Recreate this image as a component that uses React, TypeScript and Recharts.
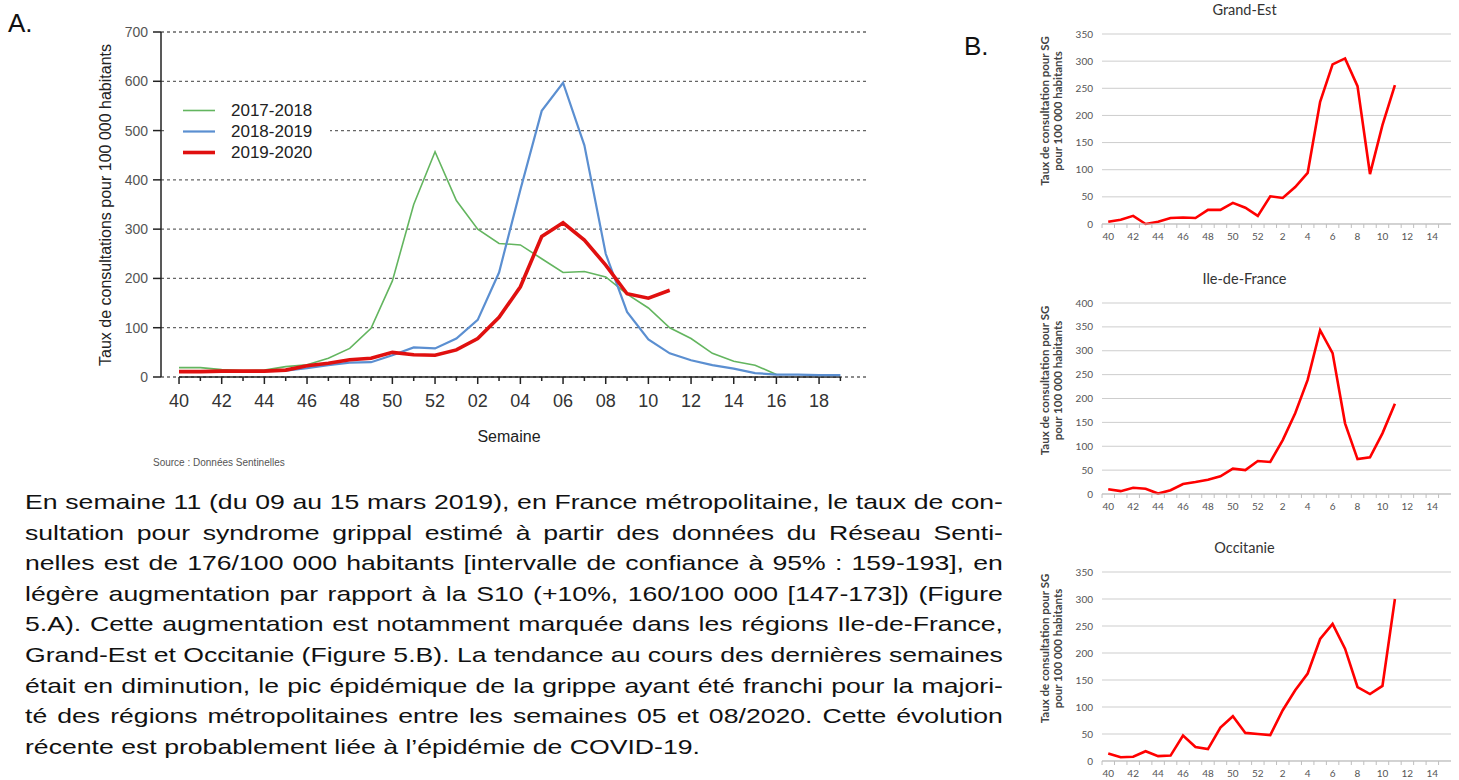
import React from 'react';
import { LineChart, Line, XAxis, YAxis, CartesianGrid, Legend, ReferenceLine } from 'recharts';

// Figure 5.A : taux de consultations pour syndrome grippal, France métropolitaine
const weeks = ['40', '41', '42', '43', '44', '45', '46', '47', '48', '49', '50', '51', '52', '01', '02', '03', '04', '05', '06', '07', '08', '09', '10', '11', '12', '13', '14', '15', '16', '17', '18', '19'];
const season1718 = [19, 19, 15, 13, 14, 21, 25, 38, 58, 99, 195, 350, 457, 358, 300, 271, 268, 240, 212, 214, 203, 168, 140, 100, 78, 48, 32, 24, 5];
const season1819 = [12, 12, 12, 12, 12, 13, 18, 24, 29, 30, 44, 60, 58, 78, 116, 212, 380, 540, 597, 470, 250, 132, 76, 48, 34, 24, 17, 8, 5, 5, 4, 4];
const season1920 = [11, 11, 12, 12, 12, 14, 23, 28, 35, 38, 50, 45, 44, 55, 78, 121, 183, 285, 313, 278, 227, 169, 160, 176];
const mainYTicks = [0, 100, 200, 300, 400, 500, 600, 700];

const seasons = [
  { key: 's1718', name: '2017-2018', color: '#63b55f', width: 1.6 },
  { key: 's1819', name: '2018-2019', color: '#5b8fd1', width: 2.2 },
  { key: 's1920', name: '2019-2020', color: '#e0100f', width: 3.6 },
];

// Figure 5.B : régions
const regionWeeks = ['40', '41', '42', '43', '44', '45', '46', '47', '48', '49', '50', '51', '52', '1', '2', '3', '4', '5', '6', '7', '8', '9', '10', '11', '12', '13', '14', '15'];
const grandEst = [4, 8, 15, 0, 4, 11, 12, 11, 26, 26, 39, 30, 15, 51, 48, 68, 94, 225, 294, 305, 254, 92, 182, 256];
const ileDeFrance = [10, 6, 13, 11, 1, 8, 21, 25, 30, 37, 53, 50, 69, 67, 113, 169, 239, 343, 295, 148, 73, 77, 127, 189];
const occitanie = [14, 7, 8, 18, 9, 10, 47, 26, 22, 62, 83, 52, 50, 48, 94, 131, 162, 226, 254, 208, 137, 124, 139, 300];
const ticks350 = [0, 50, 100, 150, 200, 250, 300, 350];
const ticks400 = [0, 50, 100, 150, 200, 250, 300, 350, 400];

const paragraph = [
  'En semaine 11 (du 09 au 15 mars 2019), en France métropolitaine, le taux de con-',
  'sultation pour syndrome grippal estimé à partir des données du Réseau Senti-',
  'nelles est de 176/100 000 habitants [intervalle de confiance à 95% : 159-193], en',
  'légère augmentation par rapport à la S10 (+10%, 160/100 000 [147-173]) (Figure',
  '5.A). Cette augmentation est notamment marquée dans les régions Ile-de-France,',
  'Grand-Est et Occitanie (Figure 5.B). La tendance au cours des dernières semaines',
  'était en diminution, le pic épidémique de la grippe ayant été franchi pour la majori-',
  'té des régions métropolitaines entre les semaines 05 et 08/2020. Cette évolution',
  'récente est probablement liée à l’épidémie de COVID-19.',
];

const mainData = weeks.map((w, i) => ({
  i,
  week: w,
  s1718: season1718[i] ?? null,
  s1819: season1819[i] ?? null,
  s1920: season1920[i] ?? null,
}));

const arial = '"Liberation Sans", Arial, sans-serif';

function WeekTick(props: any) {
  const { x, y, payload } = props;
  const i = payload.value;
  const major = i % 2 === 0;
  return (
    <g>
      <line x1={x} x2={x} y1={y} y2={y + (major ? 7 : 4)} stroke="#222" strokeWidth={1.5} />
      {major && (
        <text x={x} y={y + 30} textAnchor="middle" fontSize={18} fill="#333">
          {weeks[i]}
        </text>
      )}
    </g>
  );
}

function MainYLabel() {
  return (
    <text transform="translate(111, 205) rotate(-90)" textAnchor="middle" fontSize={16} fill="#222">
      Taux de consultations pour 100 000 habitants
    </text>
  );
}

function SemaineLabel() {
  return (
    <text x={509} y={442} textAnchor="middle" fontSize={16} fill="#222">
      Semaine
    </text>
  );
}

function MainLegend() {
  return (
    <div style={{ background: '#fff', padding: '2px 0', width: 165 }}>
      {seasons.map((s) => (
        <div key={s.key} style={{ display: 'flex', alignItems: 'center', height: 21 }}>
          <svg width={50} height={21}>
            <line x1={18} x2={50} y1={10.5} y2={10.5} stroke={s.color} strokeWidth={s.width} />
          </svg>
          <span style={{ marginLeft: 16, fontSize: 17, color: '#222', fontFamily: arial }}>{s.name}</span>
        </div>
      ))}
    </div>
  );
}

function MainChart() {
  return (
    <LineChart width={880} height={480} data={mainData} margin={{ top: 32, right: 14, bottom: 43, left: 0 }}>
      <CartesianGrid vertical={false} stroke="#666" strokeDasharray="3 3" strokeWidth={1.3} />
      <XAxis
        type="number"
        dataKey="i"
        domain={[-0.845, 32.2]}
        ticks={weeks.map((_, i) => i)}
        interval={0}
        allowDataOverflow
        height={60}
        tickSize={0}
        tickMargin={0}
        tickLine={false}
        axisLine={false}
        tick={<WeekTick />}
        label={<SemaineLabel />}
      />
      <YAxis
        type="number"
        domain={[0, 700]}
        ticks={mainYTicks}
        width={161}
        tickSize={8}
        tickMargin={5}
        axisLine={{ stroke: '#222', strokeWidth: 1.5 }}
        tickLine={{ stroke: '#222', strokeWidth: 1.5 }}
        tick={{ fill: '#555', fontSize: 14 }}
        label={<MainYLabel />}
      />
      <ReferenceLine segment={[{ x: 0, y: 0 }, { x: weeks.length - 1, y: 0 }]} stroke="#222" strokeWidth={1.5} />
      <Legend
        layout="vertical"
        align="center"
        verticalAlign="middle"
        wrapperStyle={{ left: 165, top: 98, width: 165 }}
        content={<MainLegend />}
      />
      {seasons.map((s) => (
        <Line
          key={s.key}
          type="linear"
          dataKey={s.key}
          name={s.name}
          stroke={s.color}
          strokeWidth={s.width}
          dot={false}
          isAnimationActive={false}
        />
      ))}
    </LineChart>
  );
}

function RegionTick(props: any) {
  const { x, y, payload } = props;
  const i = payload.value;
  return (
    <g>
      <line x1={x - 6.2} x2={x - 6.2} y1={y} y2={y + 4} stroke="#bfbfbf" />
      {i % 2 === 0 && (
        <text x={x} y={y + 15.5} textAnchor="middle" fontSize={10} fill="#555">
          {regionWeeks[i]}
        </text>
      )}
    </g>
  );
}

function RegionYLabel(props: any) {
  const { viewBox } = props;
  const cy = viewBox.y + viewBox.height / 2 - 18;
  return (
    <text transform={`translate(19, ${cy}) rotate(-90)`} textAnchor="middle" fontSize={11.5} fontWeight="bold" fill="#444">
      <tspan x={0} dy={0}>Taux de consultation pour SG</tspan>
      <tspan x={0} dy={13}>pour 100 000 habitants</tspan>
    </text>
  );
}

function RegionChart(props: {
  title: string;
  values: number[];
  yTicks: number[];
  top: number;
  height: number;
  plotTop: number;
  plotBottom: number;
  titleY: number;
}) {
  const { title, values, yTicks, top, height, plotTop, plotBottom, titleY } = props;
  const data = regionWeeks.map((w, i) => ({ i, week: w, v: values[i] ?? null }));
  return (
    <div style={{ position: 'absolute', left: 1030, top, width: 429, height, fontFamily: 'Lato, "Open Sans", sans-serif' }}>
      <div style={{ position: 'absolute', left: 0, top: titleY, width: 429, textAlign: 'center', fontSize: 14.5, color: '#333', lineHeight: '16px' }}>
        {title}
      </div>
      <LineChart
        width={429}
        height={height}
        data={data}
        margin={{ top: plotTop - top, right: 8, bottom: height - (plotBottom - top) - 18, left: 0 }}
      >
        <CartesianGrid vertical={false} stroke="#cdcdcd" />
        <XAxis
          type="number"
          dataKey="i"
          domain={[-0.5, 27.5]}
          ticks={regionWeeks.map((_, i) => i)}
          interval={0}
          allowDataOverflow
          height={18}
          tickSize={0}
          tickMargin={0}
          tickLine={false}
          axisLine={{ stroke: '#bfbfbf' }}
          tick={<RegionTick />}
        />
        <YAxis
          type="number"
          domain={[0, yTicks[yTicks.length - 1]]}
          ticks={yTicks}
          width={72}
          tickSize={0}
          tickMargin={9}
          tickLine={false}
          axisLine={false}
          tick={{ fill: '#555', fontSize: 10 }}
          label={<RegionYLabel />}
        />
        <Line type="linear" dataKey="v" stroke="#ff0000" strokeWidth={2.6} dot={false} isAnimationActive={false} />
      </LineChart>
    </div>
  );
}

// paragraph text in the source is set in Arial, horizontally stretched
const textStretch = 1.268;

function Paragraph() {
  return (
    <div
      style={{
        position: 'absolute',
        left: 25,
        top: 487,
        width: 978 / textStretch,
        fontSize: 21,
        lineHeight: '30.6px',
        color: '#111',
        transform: `scaleX(${textStretch})`,
        transformOrigin: 'left top',
        whiteSpace: 'nowrap',
      }}
    >
      {paragraph.map((line, idx) =>
        idx < paragraph.length - 1 ? (
          <div key={idx} style={{ display: 'flex', justifyContent: 'space-between' }}>
            {line.split(' ').map((word, k) => (
              <span key={k}>{word}</span>
            ))}
          </div>
        ) : (
          <div key={idx}>{line}</div>
        )
      )}
    </div>
  );
}

export default function App() {
  return (
    <div style={{ position: 'absolute', left: 0, top: 0, width: 1459, height: 780, background: '#fff', overflow: 'hidden', fontFamily: arial }}>
      <div style={{ position: 'absolute', left: 8, top: 8, fontSize: 26, color: '#111' }}>A.</div>
      <div style={{ position: 'absolute', left: 964, top: 31, fontSize: 26, color: '#111' }}>B.</div>
      <div style={{ position: 'absolute', left: 0, top: 0 }}>
        <MainChart />
      </div>
      <div style={{ position: 'absolute', left: 153, top: 457, fontSize: 10, color: '#555' }}>Source : Données Sentinelles</div>
      <Paragraph />
      <RegionChart title="Grand-Est" values={grandEst} yTicks={ticks350} top={0} height={250} plotTop={34} plotBottom={224} titleY={2} />
      <RegionChart title="Ile-de-France" values={ileDeFrance} yTicks={ticks400} top={260} height={260} plotTop={303} plotBottom={494} titleY={11} />
      <RegionChart title="Occitanie" values={occitanie} yTicks={ticks350} top={530} height={250} plotTop={572} plotBottom={761} titleY={10} />
    </div>
  );
}
